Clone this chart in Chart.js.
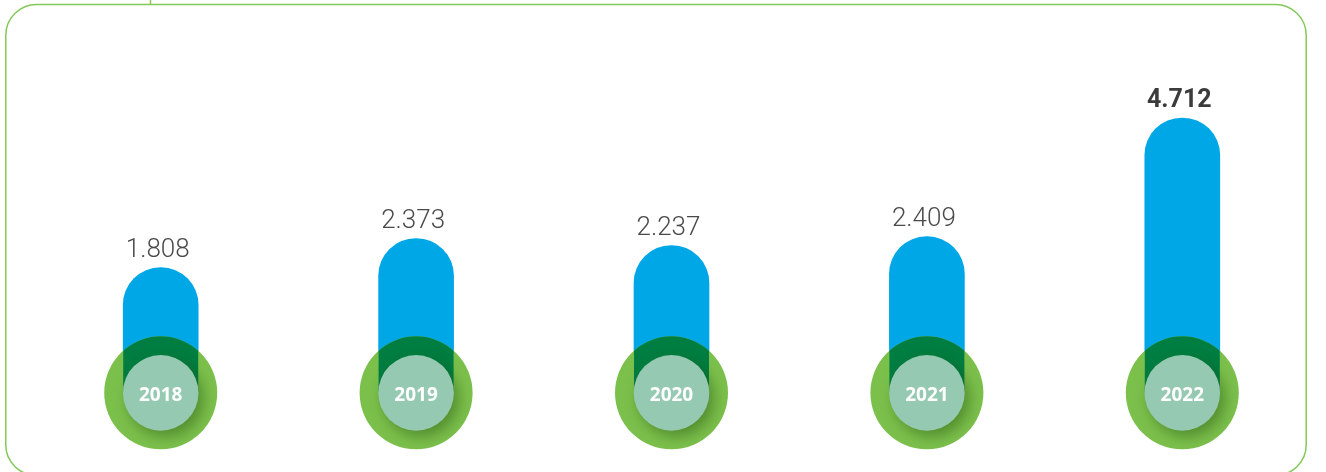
<!DOCTYPE html>
<html>
<head>
<meta charset="utf-8">
<script src="https://cdn.jsdelivr.net/npm/chart.js@4"></script>
<style>
  html, body { margin: 0; padding: 0; background: #fff; }
  canvas { display: block; }
</style>
</head>
<body>
<canvas id="chart" width="1326" height="472"></canvas>
<script>
"use strict";

var years = ['2018', '2019', '2020', '2021', '2022'];
var values = [1.808, 2.373, 2.237, 2.409, 4.712];
var valueLabels = ['1.808', '2.373', '2.237', '2.409', '4.712'];
var highlight = [false, false, false, false, true];

// the bars run down into the round badge, its centre sits at this value
var badgeValue = -0.62;

var blue = '#00a7e7';
var green = '#7cc04c';
var darkGreen = '#007d41';
var paleGreen = '#96c9b1';

// frame round the chart (bottom edge runs just off the picture)
var framePlugin = {
  id: 'frame',
  beforeDraw: function (chart) {
    var c = chart.ctx;
    c.save();
    c.strokeStyle = '#84c95a';
    c.lineWidth = 1.5;
    c.beginPath();
    c.roundRect(5.75, 4.5, 1300.5, 471, 31);
    c.stroke();
    c.beginPath();
    c.moveTo(150.5, 0);
    c.lineTo(150.5, 4.5);
    c.stroke();
    c.restore();
  }
};

// badges at the foot of each bar + value labels
var badgePlugin = {
  id: 'badges',
  afterDatasetsDraw: function (chart) {
    var c = chart.ctx;
    var meta = chart.getDatasetMeta(0);
    var yScale = chart.scales.y;
    var cy = yScale.getPixelForValue(badgeValue);
    meta.data.forEach(function (bar, i) {
      var x = bar.x;
      var half = bar.width / 2;

      c.save();
      c.beginPath();
      c.arc(x, cy, 56.5, 0, Math.PI * 2);
      c.fillStyle = green;
      c.fill();
      c.clip();

      // part of the bar over the badge
      c.fillStyle = darkGreen;
      c.beginPath();
      c.roundRect(x - half, bar.y, half * 2, cy - bar.y, [half, half, 0, 0]);
      c.fill();

      c.shadowColor = 'rgba(30, 80, 10, 0.45)';
      c.shadowBlur = 14;
      c.shadowOffsetX = 5;
      c.shadowOffsetY = 6;
      c.beginPath();
      c.arc(x, cy, 37.8, 0, Math.PI * 2);
      c.fillStyle = paleGreen;
      c.fill();
      c.restore();

      c.save();
      c.fillStyle = '#ffffff';
      c.font = 'bold 19px "Open Sans", sans-serif';
      c.textAlign = 'center';
      c.textBaseline = 'middle';
      c.fillText(years[i], x, cy + 3);

      c.fillStyle = highlight[i] ? '#3b3b3b' : '#4a4a4a';
      c.font = highlight[i] ? 'bold 25px Roboto, sans-serif' : '300 26px Roboto, sans-serif';
      c.textBaseline = 'alphabetic';
      c.fillText(valueLabels[i], x - 3, bar.y - 11);
      c.restore();
    });
  }
};

var ctx = document.getElementById('chart');
var myChart = new Chart(ctx, {
  type: 'bar',
  data: {
    labels: years,
    datasets: [{
      data: values,
      base: badgeValue,
      backgroundColor: blue,
      barThickness: 75,
      borderRadius: { topLeft: 37.5, topRight: 37.5, bottomLeft: 0, bottomRight: 0 },
      borderSkipped: 'bottom'
    }]
  },
  options: {
    responsive: false,
    animation: false,
    devicePixelRatio: 1,
    layout: { padding: { left: 33, right: 16, top: 0, bottom: 8 } },
    plugins: {
      legend: { display: false },
      tooltip: { enabled: false }
    },
    scales: {
      x: { display: false },
      y: { display: false, min: -2, max: 7 }
    }
  },
  plugins: [framePlugin, badgePlugin]
});
</script>
</body>
</html>
